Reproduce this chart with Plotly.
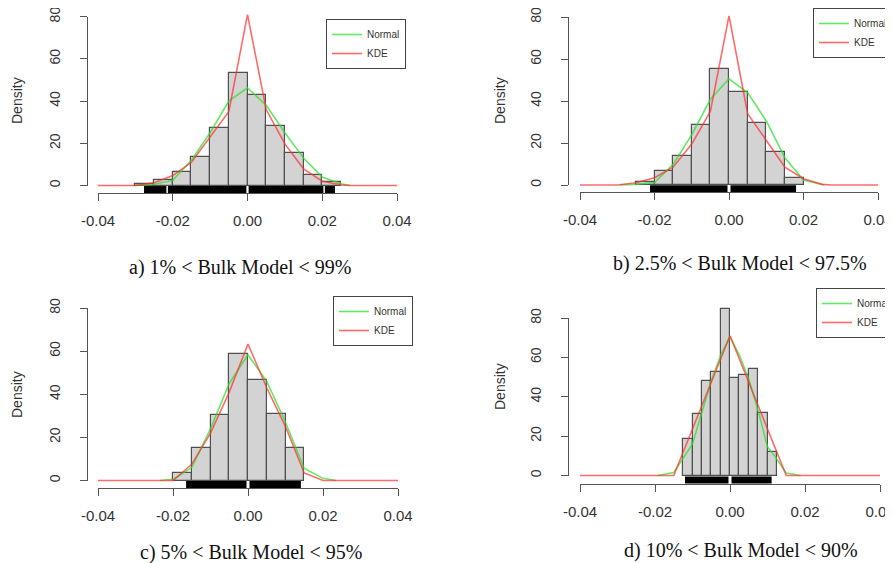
import plotly.graph_objects as go

# ---------------- data ----------------
tick_vals_x = [-0.04, -0.02, 0.0, 0.02, 0.04]
tick_text_x = ["-0.04", "-0.02", "0.00", "0.02", "0.04"]
tick_vals_y = [0, 20, 40, 60, 80]
tick_text_y = ["0", "20", "40", "60", "80"]
captions = ["a) 1% < Bulk Model < 99%", "b) 2.5% < Bulk Model < 97.5%",
            "c) 5% < Bulk Model < 95%", "d) 10% < Bulk Model < 90%"]
series_names = ["Normal", "KDE"]

# panel a
hist_a_breaks = [-0.030, -0.025, -0.020, -0.015, -0.010, -0.005, 0.000, 0.005, 0.010, 0.015, 0.020, 0.025]
hist_a_density = [0.7, 2.7, 6.2, 13.6, 27.3, 53.5, 42.7, 28.4, 15.3, 5.0, 1.5]
normal_a_x = [-0.0295, -0.025, -0.02, -0.015, -0.01, -0.005, 0.0, 0.005, 0.01, 0.015, 0.02, 0.025, 0.0275]
normal_a_y = [0, 0.6, 2.5, 12, 25, 40, 46.3, 38, 25, 13, 4, 0.8, 0]
kde_a_x = [-0.04, -0.03, -0.025, -0.02, -0.015, -0.01, -0.005, 0.0, 0.005, 0.01, 0.015, 0.02, 0.025, 0.0275, 0.04]
kde_a_y = [0, 0, 1.3, 4.7, 11, 23, 35, 81, 36, 19.7, 7.9, 2, 0.3, 0, 0]
rug_a = [(-0.0277, -0.0217), (-0.0213, -0.0003), (0.0003, 0.0203), (0.0207, 0.0234)]

# panel b
hist_b_breaks = [-0.025, -0.020, -0.015, -0.010, -0.005, 0.000, 0.005, 0.010, 0.015, 0.020]
hist_b_density = [1.2, 6.8, 13.8, 28.6, 55.4, 44.4, 29.5, 15.8, 3.1]
normal_b_x = [-0.0293, -0.025, -0.02, -0.015, -0.01, -0.005, 0.0, 0.005, 0.01, 0.015, 0.02, 0.0256]
normal_b_y = [0, 0.3, 1.2, 9.8, 24, 40.8, 50.6, 44, 30.5, 13, 2.4, 0]
kde_b_x = [-0.04, -0.03, -0.025, -0.02, -0.015, -0.01, -0.005, 0.0, 0.005, 0.01, 0.015, 0.02, 0.025, 0.0275, 0.04]
kde_b_y = [0, 0, 1.1, 3.5, 8.5, 19.5, 35, 80.5, 34, 21, 8.5, 3, 0.3, 0, 0]
rug_b = [(-0.0212, -0.0004), (0.0004, 0.0180)]

# panel c
hist_c_breaks = [-0.020, -0.015, -0.010, -0.005, 0.000, 0.005, 0.010, 0.015]
hist_c_density = [3.3, 14.9, 30.4, 58.6, 46.7, 30.9, 15.2]
normal_c_x = [-0.0235, -0.02, -0.015, -0.01, -0.005, 0.0, 0.005, 0.01, 0.015, 0.02, 0.0235]
normal_c_y = [0, 0.5, 6, 24, 45, 58.3, 46, 27, 5.6, 1, 0]
kde_c_x = [-0.04, -0.02, -0.015, -0.01, -0.005, 0.0, 0.005, 0.01, 0.015, 0.02, 0.04]
kde_c_y = [0, 0, 7.5, 22, 41, 63.3, 43, 25, 3.5, 0, 0]
rug_c = [(-0.0165, -0.0004), (0.0004, 0.0141)]

# panel d
hist_d_breaks = [-0.0125, -0.0100, -0.0075, -0.0050, -0.0025, 0.0000, 0.0025, 0.0050, 0.0075, 0.0100, 0.0125]
hist_d_density = [18.7, 31.4, 48.2, 52.6, 84.7, 49.5, 51.3, 53.9, 31.5, 12.0]
normal_d_x = [-0.0193, -0.015, -0.01, -0.0075, -0.005, -0.0025, 0.0, 0.0025, 0.005, 0.0075, 0.01, 0.0115, 0.015, 0.0188]
normal_d_y = [0, 1.5, 16, 32, 48, 61, 70.6, 61, 49, 33, 14.5, 11, 1.2, 0]
kde_d_x = [-0.04, -0.015, 0.0, 0.015, 0.04]
kde_d_y = [0, 0, 71, 0, 0]
rug_d = [(-0.0120, -0.0004), (0.0004, 0.0111)]

panels_data = [
    (hist_a_breaks, hist_a_density, normal_a_x, normal_a_y, kde_a_x, kde_a_y, rug_a),
    (hist_b_breaks, hist_b_density, normal_b_x, normal_b_y, kde_b_x, kde_b_y, rug_b),
    (hist_c_breaks, hist_c_density, normal_c_x, normal_c_y, kde_c_x, kde_c_y, rug_c),
    (hist_d_breaks, hist_d_density, normal_d_x, normal_d_y, kde_d_x, kde_d_y, rug_d),
]

# ---------------- layout geometry (screen pixels) ----------------
W, H = 893, 563
OX, OY = 8, 8   # page body margin offset of the plot div
geom = [
    dict(yx=87, y0=185.5, y80=16.7, xl=98, xr=397, xa=193, leg=(326, 19), dens=(17, 101), cap=(240, 267)),
    dict(yx=568, y0=185, y80=17, xl=580, xr=878, xa=192, leg=(813, 4), dens=(500, 101), cap=(740, 263)),
    dict(yx=87, y0=480.5, y80=308, xl=98, xr=398, xa=488, leg=(333, 296), dens=(17, 395), cap=(252, 552)),
    dict(yx=568, y0=475.5, y80=318, xl=580, xr=880, xa=484, leg=(816, 288), dens=(500, 387), cap=(741, 550)),
]


def fx(p):
    return min(1.0, max(0.0, (p - OX) / W))


def fy(p):
    return min(1.0, max(0.0, 1 - (p - OY) / H))


SANS = "Liberation Sans, Arial, sans-serif"
SERIF = "Liberation Serif, Times New Roman, serif"
AXC = "#555555"
GREEN = "rgba(40,225,40,0.72)"
RED = "rgba(255,50,50,0.72)"

fig = go.Figure()
layout = dict(width=W, height=H, margin=dict(l=0, r=0, t=0, b=0, autoexpand=False),
              paper_bgcolor="white", plot_bgcolor="rgba(0,0,0,0)",
              showlegend=True, bargap=0, barmode="overlay")
annotations = []

for i, (g, pdata) in enumerate(zip(geom, panels_data)):
    breaks, dens, nx, ny, kx, ky, rug = pdata
    n = i + 1
    dn = n + 4
    sx = (g["xr"] - g["xl"]) / 0.08
    sy = (g["y0"] - g["y80"]) / 80.0
    dl, dr = max(OX, g["xl"] - 8), g["xr"] + 8
    dt, db = max(OY, g["y80"] - 16), g["xa"] + 1
    xr_ = [-0.04 - (g["xl"] - dl) / sx, 0.04 + (dr - g["xr"]) / sx]
    yr_ = [-(db - g["y0"]) / sy, 80 + (g["y80"] - dt) / sy]
    sfx = "" if n == 1 else str(n)
    legname = "legend" if n == 1 else f"legend{n}"

    layout[f"xaxis{sfx}"] = dict(domain=[fx(dl), fx(dr)], range=xr_, visible=False,
                                 anchor=f"y{sfx}", fixedrange=True)
    layout[f"yaxis{sfx}"] = dict(domain=[fy(db), fy(dt)], range=yr_, visible=False,
                                 anchor=f"x{sfx}", fixedrange=True)
    # decorative R-style axes spanning only the tick range
    layout[f"xaxis{dn}"] = dict(domain=[fx(g["xl"]), fx(g["xr"])], range=[-0.04, 0.04],
                                anchor="free", position=fy(g["xa"]),
                                tickvals=tick_vals_x, ticktext=tick_text_x,
                                showline=True, linecolor=AXC, linewidth=1,
                                ticks="outside", ticklen=7, tickcolor=AXC, tickwidth=1,
                                showgrid=False, zeroline=False, ticklabelstandoff=7,
                                ticklabeloverflow="allow",
                                automargin=False, fixedrange=True,
                                tickfont=dict(family=SANS, size=15, color="#333"))
    layout[f"yaxis{dn}"] = dict(domain=[fy(g["y0"]), fy(g["y80"])], range=[0, 80],
                                anchor="free", position=fx(g["yx"]),
                                tickvals=tick_vals_y, ticktext=tick_text_y, tickangle=-90,
                                showline=True, linecolor=AXC, linewidth=1,
                                ticks="outside", ticklen=7, tickcolor=AXC, tickwidth=1,
                                showgrid=False, zeroline=False, ticklabelstandoff=14,
                                ticklabeloverflow="allow",
                                automargin=False, fixedrange=True,
                                tickfont=dict(family=SANS, size=14, color="#333"))
    layout[legname] = dict(x=fx(g["leg"][0]), y=fy(g["leg"][1]), xanchor="left", yanchor="top",
                           bgcolor="white", bordercolor="#444", borderwidth=1,
                           font=dict(family=SANS, size=10, color="#333"),
                           itemwidth=30, tracegroupgap=0)

    centers = [(breaks[k] + breaks[k + 1]) / 2 for k in range(len(dens))]
    widths = [breaks[k + 1] - breaks[k] for k in range(len(dens))]
    fig.add_trace(go.Bar(x=centers, y=dens, width=widths, xaxis=f"x{sfx}", yaxis=f"y{sfx}",
                         marker=dict(color="#d3d3d3", line=dict(color="#505050", width=1.2)),
                         showlegend=False, hoverinfo="skip"))
    fig.add_trace(go.Scatter(x=nx, y=ny, mode="lines", name=series_names[0], legend=legname,
                             line=dict(color=GREEN, width=1.6), xaxis=f"x{sfx}", yaxis=f"y{sfx}"))
    fig.add_trace(go.Scatter(x=kx, y=ky, mode="lines", name=series_names[1], legend=legname,
                             line=dict(color=RED, width=1.6), xaxis=f"x{sfx}", yaxis=f"y{sfx}"))
    rx, ry = [], []
    ryv = -((g["xa"] - g["y0"]) / 2 + 0.3) / sy
    for s, e in rug:
        rx += [s, e, None]
        ry += [ryv, ryv, None]
    fig.add_trace(go.Scatter(x=rx, y=ry, mode="lines", line=dict(color="black", width=7),
                             showlegend=False, hoverinfo="skip",
                             xaxis=f"x{sfx}", yaxis=f"y{sfx}"))
    fig.add_trace(go.Scatter(x=[None], y=[None], mode="markers", showlegend=False,
                             xaxis=f"x{dn}", yaxis=f"y{dn}", hoverinfo="skip"))

    annotations.append(dict(text="Density", x=fx(g["dens"][0]), y=fy(g["dens"][1]),
                            xref="paper", yref="paper", showarrow=False, textangle=-90,
                            xanchor="center", yanchor="middle",
                            font=dict(family=SANS, size=14, color="#333")))
    annotations.append(dict(text=captions[i], x=fx(g["cap"][0]), y=fy(g["cap"][1]),
                            xref="paper", yref="paper", showarrow=False,
                            xanchor="center", yanchor="middle",
                            font=dict(family=SERIF, size=20, color="#111")))

layout["annotations"] = annotations
fig.update_layout(**layout)
fig.write_html("out.html")
